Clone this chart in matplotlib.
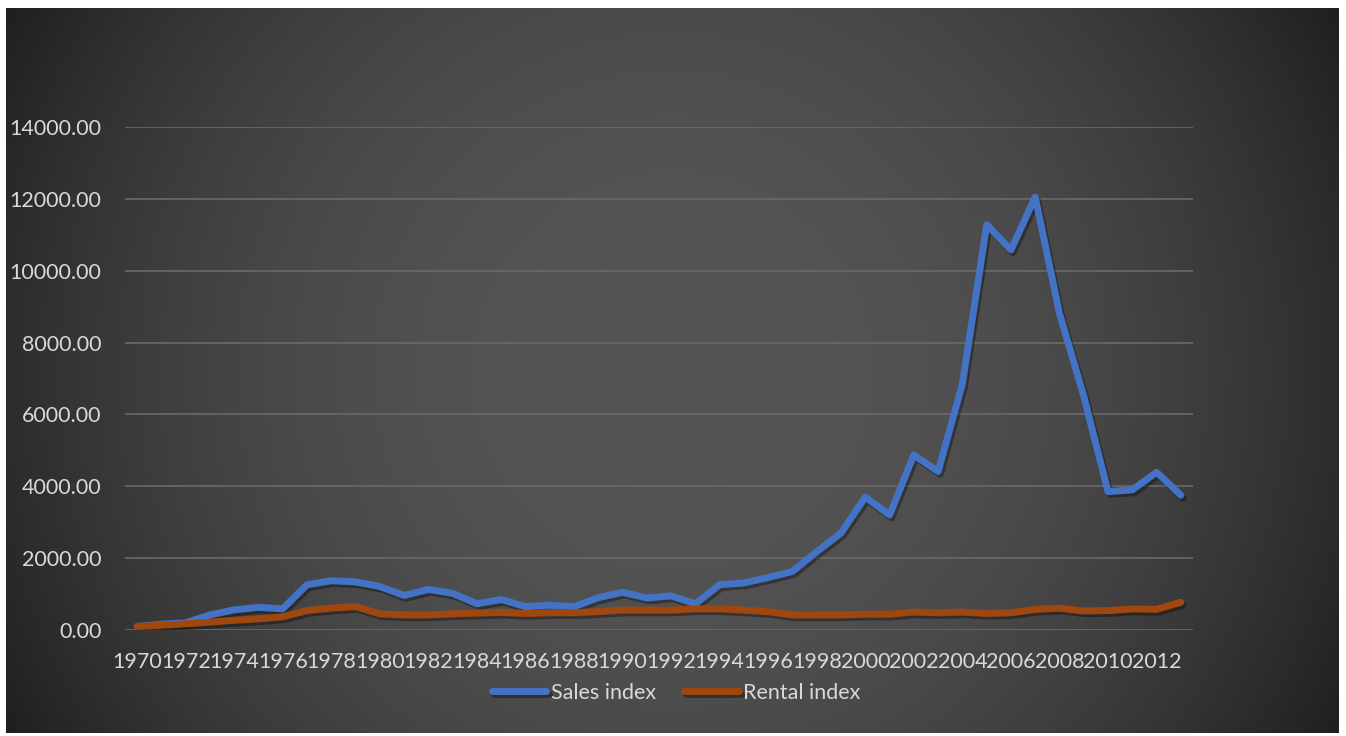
import numpy as np
import matplotlib
matplotlib.use("Agg")
import matplotlib.pyplot as plt
import matplotlib.patheffects as pe

years = list(range(1970, 2014))
sales_index = [100, 160, 200, 420, 560, 630, 590, 1260, 1370, 1340,
               1210, 960, 1130, 1020, 730, 850, 650, 690, 650, 900,
               1050, 890, 950, 730, 1260, 1310, 1460, 1630, 2180, 2700,
               3700, 3200, 4870, 4410, 6850, 11280, 10580, 12050, 8810, 6510,
               3850, 3900, 4390, 3750]
rental_index = [100, 130, 170, 220, 270, 310, 370, 540, 610, 650,
                450, 420, 420, 450, 470, 490, 460, 480, 480, 510,
                555, 555, 555, 590, 590, 555, 510, 420, 420, 420,
                440, 440, 500, 480, 500, 460, 480, 575, 605, 530,
                540, 585, 575, 770]
y_ticks = [0, 2000, 4000, 6000, 8000, 10000, 12000, 14000]

W, H = 1346, 736
plt.rcParams['font.family'] = ['Lato', 'DejaVu Sans']
fig = plt.figure(figsize=(W / 100, H / 100), dpi=100, facecolor='white')

# dark chart panel with a radial gradient
bg = fig.add_axes([6 / W, 1 - 733 / H, (1339 - 6) / W, (733 - 8) / H])
gw, gh = 1333, 725
xx, yy = np.meshgrid(np.arange(gw), np.arange(gh))
r = np.hypot(xx - gw / 2, yy - gh / 2)
r = r / r.max()
c = (85 - 54 * r ** 2.2) / 255.0
bg.imshow(np.dstack([c, c, c]), aspect='auto', interpolation='bilinear')
bg.set_axis_off()

ax = fig.add_axes([125 / W, 1 - 630 / H, 1068 / W, 503 / H])
ax.patch.set_alpha(0)
x = np.arange(len(years))
shadow = [pe.SimpleLineShadow(offset=(1.5, -2), shadow_color='black', alpha=0.35), pe.Normal()]
ax.plot(x, sales_index, color='#4472C4', lw=5, solid_capstyle='round',
        solid_joinstyle='round', label='Sales index', path_effects=shadow, zorder=3)
ax.plot(x, rental_index, color='#A0470F', lw=5, solid_capstyle='round',
        solid_joinstyle='round', label='Rental index', path_effects=shadow, zorder=3)

ax.set_xlim(-0.5, len(years) - 0.5)
ax.set_ylim(0, 14000)
ax.set_yticks(y_ticks)
ax.set_yticklabels([f"{v:.2f}" for v in y_ticks])
ax.set_xticks(x[::2])
ax.set_xticklabels([str(yv) for yv in years[::2]])
ax.grid(axis='y', color='#6a6a6a', lw=1.2)
ax.set_axisbelow(True)
for s in ax.spines.values():
    s.set_visible(False)
ax.tick_params(axis='both', length=0, colors='#D9D9D9', labelsize=15.5)
ax.tick_params(axis='y', pad=17)
ax.tick_params(axis='x', pad=16)

leg = fig.legend(loc='center', bbox_to_anchor=(676 / W, 1 - 693 / H), ncol=2,
                 frameon=False, fontsize=15.5, labelcolor='#D9D9D9',
                 handlelength=2.55, handletextpad=0.2, columnspacing=1.3)

fig.savefig('out.png', dpi=100, facecolor='white')
